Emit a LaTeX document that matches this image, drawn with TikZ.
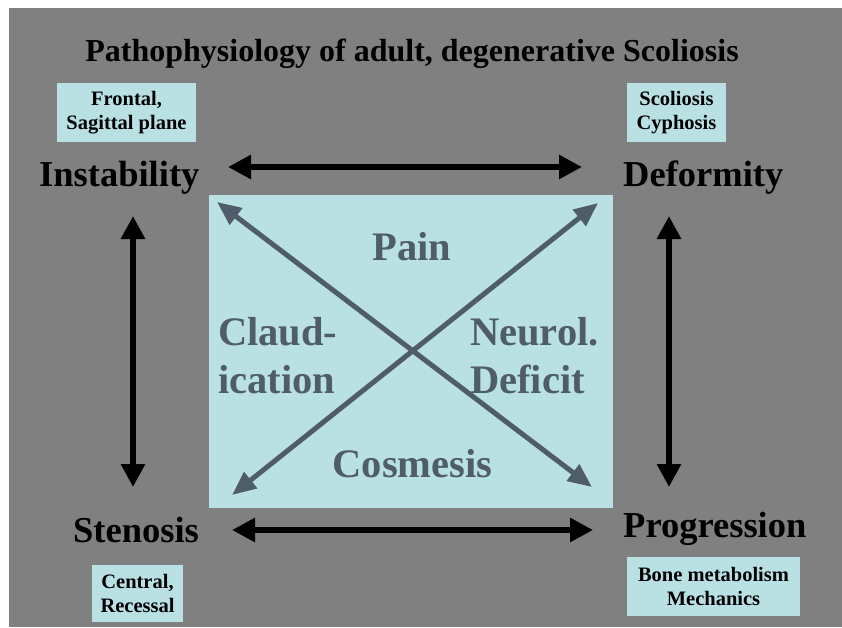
\documentclass[tikz,border=0pt]{standalone}
\usepackage{fontspec}
\setmainfont{Liberation Serif}
\usetikzlibrary{arrows.meta}
\definecolor{slidegray}{HTML}{808080}
\definecolor{paleblue}{HTML}{B9E1E4}
\definecolor{slate}{HTML}{4F5D6B}

\begin{document}
\begin{tikzpicture}[x=1pt, y=-1pt,
  bigword/.style={inner sep=0, text=black,
             font=\fontsize{36.5}{40}\selectfont\bfseries},
  notebox/.style={fill=paleblue, inner sep=0, align=center,
             font=\fontsize{20.5}{24}\selectfont\bfseries},
  inword/.style={inner sep=0, text=slate, align=left,
             font=\fontsize{40.5}{48}\selectfont\bfseries},
  blackarrow/.style={line width=6pt, black,
             {Triangle[length=23pt,width=23pt]}-{Triangle[length=23pt,width=23pt]}},
  slatearrow/.style={line width=5pt, slate,
             {Triangle[length=24pt,width=20pt]}-{Triangle[length=24pt,width=20pt]}},
]
\useasboundingbox (0,0) rectangle (842,627);
\fill[slidegray] (9,8) rectangle (842,627);

\node[inner sep=0, anchor=base, font=\fontsize{32}{36}\selectfont\bfseries]
  (title) at (412,61) {Pathophysiology of adult, degenerative Scoliosis};

% corner notes
\node[notebox, minimum width=139, minimum height=59] (frontal) at (126.5,112.5)
  {Frontal,\\Sagittal plane};
\node[notebox, minimum width=99, minimum height=59] (scol) at (676.5,112.5)
  {Scoliosis\\Cyphosis};
\node[notebox, minimum width=91, minimum height=57] (central) at (137.5,593.5)
  {Central,\\Recessal};
\node[notebox, minimum width=173, minimum height=59] (bone) at (713.5,586.5)
  {Bone metabolism\\Mechanics};

% the four corner words
\node[bigword, anchor=base west] (inst)   at (39,186)  {Instability};
\node[bigword, anchor=base west] (deform) at (623,186) {Deformity};
\node[bigword, anchor=base west] (sten)   at (73,542)  {Stenosis};
\node[bigword, anchor=base west] (prog)   at (623,537) {Progression};

% central box
\node[fill=paleblue, inner sep=0, minimum width=404, minimum height=313]
  (core) at (411,351.5) {};
\node[inword, anchor=base] (pain) at (412,260) {Pain};
\node[inword, anchor=base] (cosm) at (412.5,477) {Cosmesis};
\node[inword, anchor=base west] (claud) at (218,393) {Claud-\\ication};
\node[inword, anchor=base west] (neuro) at (470,393) {Neurol.\\Deficit};

\coordinate (tlin) at (217,202);
\coordinate (brin) at (592,487);
\coordinate (trin) at (598,203);
\coordinate (blin) at (232,495);
\draw[slatearrow] (tlin) -- (brin);
\draw[slatearrow] (trin) -- (blin);

% black links round the box
\coordinate (topL) at (228,167);
\coordinate (topR) at (582,167);
\coordinate (botL) at (232,530);
\coordinate (botR) at (593,530);
\coordinate (lftT) at (133,216);
\coordinate (lftB) at (133,487);
\coordinate (rgtT) at (669,216);
\coordinate (rgtB) at (669,487);
\draw[blackarrow] (topL) -- (topR);
\draw[blackarrow] (botL) -- (botR);
\draw[blackarrow] (lftT) -- (lftB);
\draw[blackarrow] (rgtT) -- (rgtB);
\end{tikzpicture}
\end{document}
